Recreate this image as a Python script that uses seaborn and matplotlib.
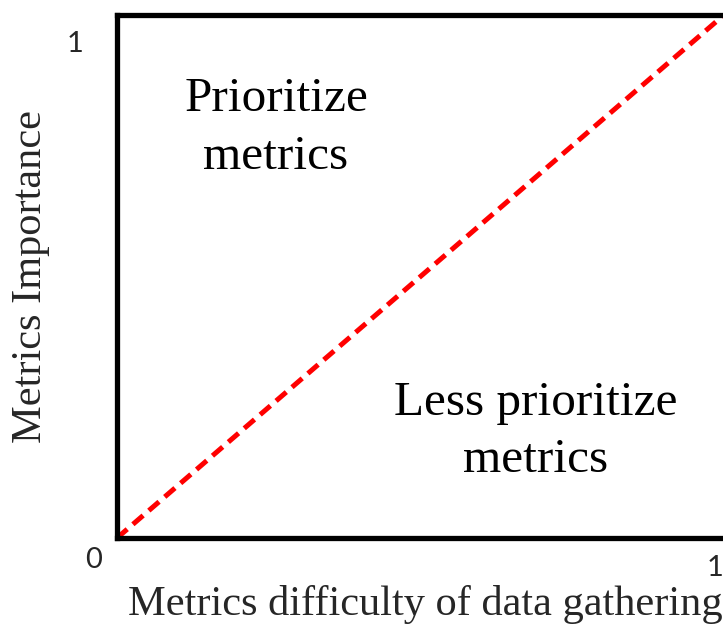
import matplotlib
matplotlib.use("Agg")
import matplotlib.pyplot as plt
import seaborn as sns
import pandas as pd

sns.set_style("white")
plt.rcParams['font.family'] = ['Liberation Serif', 'DejaVu Serif']

# data
line_x = [0.0, 1.0]
line_y = [0.0, 1.0]
region_labels = ["Prioritize\nmetrics", "Less prioritize\nmetrics"]
x_label = "Metrics difficulty of data gathering"
y_label = "Metrics Importance"
tick_texts = ["1", "0", "1"]

df = pd.DataFrame({"x": line_x, "y": line_y})

W, H = 723, 624
fig = plt.figure(figsize=(W / 100, H / 100), dpi=100)
left, right, bottom, top = 117, 724.5, 538, 14.5
ax = fig.add_axes([left / W, (H - bottom) / H, (right - left) / W, (bottom - top) / H])

sns.lineplot(data=df, x="x", y="y", ax=ax, color="#ff0000", linewidth=3.6,
             linestyle=(0, (2.7, 1.5)))
for ln in ax.lines:
    ln.set_dash_capstyle("butt")
ax.set_xlim(0, 1)
ax.set_ylim(0, 1)
ax.set_xticks([])
ax.set_yticks([])
ax.set_xlabel("")
ax.set_ylabel("")
for s in ax.spines.values():
    s.set_visible(True)
    s.set_color("black")
    s.set_linewidth(3.8)


def fx(px):
    return px / W


def fy(py):
    return 1 - py / H


# region labels, placed line by line at pixel baselines
label_layout = [(276, [111, 169]), (536, [415, 472])]
for lbl, (cx, baselines) in zip(region_labels, label_layout):
    for line, by in zip(lbl.split("\n"), baselines):
        fig.text(fx(cx), fy(by), line, ha="center", va="baseline", fontsize=35.5,
                 color="black")

fig.text(fx(425), fy(615), x_label, ha="center", va="baseline", fontsize=30.5)
fig.text(fx(41.5), fy(276.5), y_label, ha="center", va="baseline", fontsize=30.5,
         rotation=90, rotation_mode="anchor")

tick_pos = [(75, 52.5), (94, 568), (715, 576)]
for t, (px, py) in zip(tick_texts, tick_pos):
    fig.text(fx(px), fy(py), t, ha="center", va="baseline", fontsize=21,
             family=["Lato", "DejaVu Sans"])

fig.savefig("out.png", dpi=100)
